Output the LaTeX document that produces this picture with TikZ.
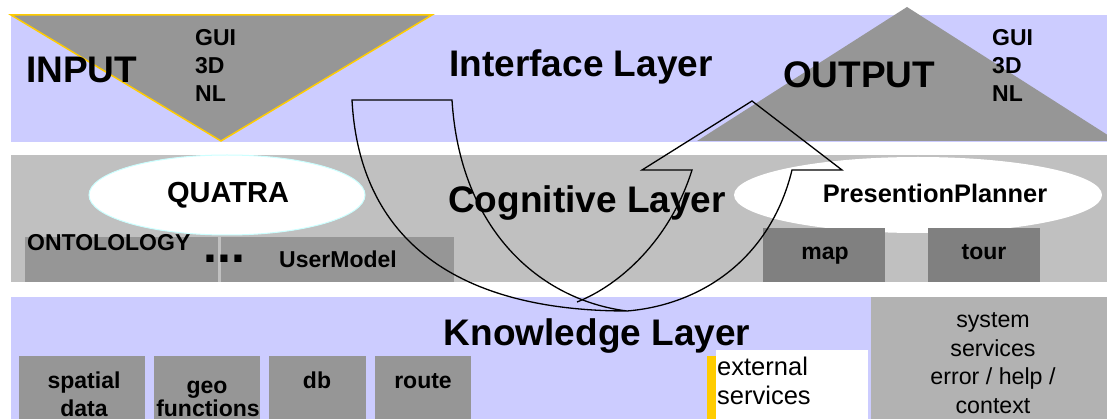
\documentclass[tikz,border=0pt]{standalone}
\usepackage{fontspec}
\setmainfont{Liberation Sans}
\definecolor{lav}{HTML}{CCCCFF}
\definecolor{cog}{HTML}{C0C0C0}
\definecolor{boxg}{HTML}{969696}
\definecolor{dboxg}{HTML}{808080}
\definecolor{sysg}{HTML}{B2B2B2}
\definecolor{ylw}{HTML}{FFCC00}
\definecolor{cyanl}{HTML}{CCFFFF}
\begin{document}
\begin{tikzpicture}[x=1pt,y=-1pt,
  big/.style={inner sep=0pt,anchor=base,font=\fontsize{37}{44}\selectfont\bfseries},
  mid/.style={inner sep=0pt,anchor=base,font=\fontsize{23}{28}\selectfont\bfseries},
  ell/.style={inner sep=0pt,anchor=base,font=\fontsize{27}{32}\selectfont\bfseries},
  reg/.style={inner sep=0pt,anchor=base,font=\fontsize{23.2}{28}\selectfont},
  ext/.style={inner sep=0pt,anchor=base west,font=\fontsize{25.5}{30}\selectfont},
  arrowline/.style={draw=black,line width=1.3pt,line join=miter}]
\useasboundingbox (0,0) rectangle (1107,419);
\fill[white] (0,0) rectangle (1107,419);
% bands
\fill[lav] (11,15) rectangle (1107,142);
\fill[cog] (11,155) rectangle (1107,282);
\fill[lav] (11,297) rectangle (871,419);
\fill[sysg] (871,297) rectangle (1107,419);
% triangles
\filldraw[fill=boxg,draw=ylw,line width=1.5pt,line join=miter] (11,15) -- (432,15) -- (221,141) -- cycle;
\fill[boxg] (697,141) -- (907,7) -- (1107,134.6) -- (1107,141) -- cycle;
% ellipses
\filldraw[fill=white,draw=cyanl,line width=1pt] (227,195) ellipse [x radius=138,y radius=40];
\fill[white] (918,195) ellipse [x radius=184,y radius=38];
% cognitive boxes
\fill[boxg] (25,237) rectangle (218,282);
\fill[boxg] (221,237) rectangle (454,282);
\fill[dboxg] (763,228) rectangle (885,282);
\fill[dboxg] (928,228) rectangle (1040,282);
% knowledge boxes
\fill[boxg] (19,356) rectangle (145,419);
\fill[boxg] (154,356) rectangle (260,419);
\fill[boxg] (269,356) rectangle (366,419);
\fill[boxg] (375,356) rectangle (471,419);
\fill[white] (716,350) rectangle (868,419);
\fill[ylw] (707,356) rectangle (716,419);
% texts
\node[big,anchor=base west] (input) at (26,83) {INPUT};
\node[mid,anchor=base west] (gui1) at (195,46) {GUI};
\node[mid,anchor=base west] (td1) at (195,74) {3D};
\node[mid,anchor=base west] (nl1) at (195,102) {NL};
\node[big] (iface) at (581,77) {Interface Layer};
\node[big,anchor=base west] (output) at (783,88) {OUTPUT};
\node[mid,anchor=base west] (gui2) at (992,46) {GUI};
\node[mid,anchor=base west] (td2) at (992,74) {3D};
\node[mid,anchor=base west] (nl2) at (992,102) {NL};
\node[ell,font=\fontsize{29}{34}\selectfont\bfseries] (quatra) at (228,203) {QUATRA};
\node[big] (cogl) at (587,213) {Cognitive Layer};
\node[ell,font=\fontsize{25.4}{30}\selectfont\bfseries] (pp) at (935,203) {PresentionPlanner};
\node[mid,anchor=base west] (onto) at (27,251) {ONTOLOLOGY};
\node[mid,anchor=base west,font=\fontsize{50}{56}\selectfont\bfseries] (dots) at (203,263) {...};
\node[mid] (um) at (338,268) {UserModel};
\node[mid] (map) at (825,260) {map};
\node[mid] (tour) at (984,260) {tour};
\node[big] (know) at (597,345) {Knowledge Layer};
\node[mid] (spatial) at (84,388) {spatial};
\node[mid] (data) at (84,416) {data};
\node[mid] (geo) at (207,393) {geo};
\node[mid] (func) at (208,416) {functions};
\node[mid] (db) at (317,388) {db};
\node[mid] (route) at (423,388) {route};
\node[ext] (ext1) at (717,375) {external};
\node[ext] (ext2) at (717,404) {services};
\node[reg] (sys1) at (993,327) {system};
\node[reg] (sys2) at (993,356) {services};
\node[reg] (sys3) at (993,384) {error / help /};
\node[reg] (sys4) at (993,413) {context};
% curved up arrow outline
\draw[arrowline] (352,100) -- (452,100) .. controls (460,230) and (540,300) .. (627,311)
   .. controls (470,311) and (360,250) .. (352,100) -- cycle;
\draw[arrowline] (577,302) .. controls (620,285) and (670,240) .. (692,170) -- (642,170) -- (752,101)
   -- (842,170) -- (792,170) .. controls (770,260) and (700,305) .. (627,311);
\end{tikzpicture}
\end{document}
